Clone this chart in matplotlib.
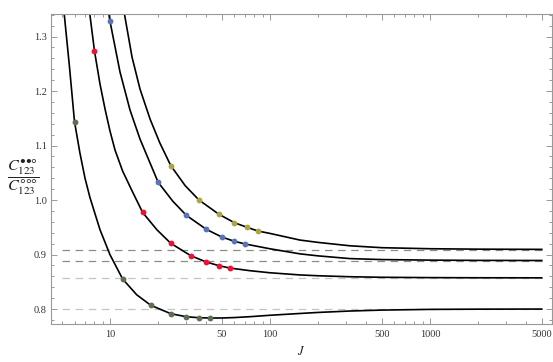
import matplotlib
matplotlib.use("Agg")
import matplotlib.pyplot as plt
from matplotlib.ticker import FixedLocator, NullFormatter

plt.rcParams['font.family'] = 'Liberation Serif'
plt.rcParams['mathtext.fontset'] = 'stix'

# curves (J, ratio)
J_a = [5.16, 5.58, 6, 6.49, 6.98, 7.5, 8.66, 10, 12, 14.7, 18, 24, 30, 36, 42, 50, 60, 75, 100, 154, 200, 316, 500,
       1000, 2000, 5000]
v_a = [1.345, 1.2445, 1.1437, 1.0859, 1.040, 1.0042, 0.9455, 0.8996, 0.855, 0.826, 0.8068, 0.7914, 0.7858, 0.784,
       0.7835, 0.7835, 0.7843, 0.7859, 0.7885, 0.7918, 0.7937, 0.7963, 0.798, 0.7993, 0.7997, 0.7999]

J_b = [7.45, 8, 8.66, 9.31, 10, 10.75, 12, 13.66, 16, 19.7, 24, 32, 40, 48, 56, 75, 100, 154, 200, 316, 500, 1000,
       2000, 5000]
v_b = [1.345, 1.2734, 1.2128, 1.167, 1.1266, 1.0917, 1.053, 1.0183, 0.9771, 0.945, 0.9205, 0.8978, 0.8862, 0.8795,
       0.8752, 0.8703, 0.8665, 0.8625, 0.861, 0.8592, 0.8582, 0.8576, 0.8573, 0.8572]

J_c = [9.79, 10, 11.55, 13.34, 15.4, 17.8, 20, 24.7, 30, 40, 50, 60, 70, 100, 154, 200, 316, 500, 1000, 2000, 5000]
v_c = [1.345, 1.328, 1.2349, 1.1651, 1.1119, 1.0679, 1.0325, 0.9978, 0.9719, 0.9462, 0.9321, 0.9242, 0.9193,
       0.9105, 0.9012, 0.8975, 0.8925, 0.8907, 0.8897, 0.8892, 0.889]

J_d = [12.25, 13.73, 15.4, 17.8, 20.5, 24, 29.5, 36, 48, 60, 72, 84, 100, 154, 200, 316, 500, 1000, 2000, 5000]
v_d = [1.345, 1.2624, 1.2037, 1.1486, 1.1046, 1.063, 1.0264, 1.0, 0.9738, 0.9583, 0.9499, 0.9431, 0.9387,
       0.9265, 0.9222, 0.916, 0.9125, 0.9106, 0.9098, 0.9094]

# highlighted points
dots_a_J = [6, 12, 18, 24, 30, 36, 42]
dots_a_v = [1.1437, 0.855, 0.8068, 0.7914, 0.7858, 0.784, 0.7835]
dots_b_J = [8, 16, 24, 32, 40, 48, 56]
dots_b_v = [1.2734, 0.9771, 0.9205, 0.8978, 0.8862, 0.8795, 0.8752]
dots_c_J = [10, 20, 30, 40, 50, 60, 70]
dots_c_v = [1.328, 1.0325, 0.9719, 0.9462, 0.9321, 0.9242, 0.9193]
dots_d_J = [24, 36, 48, 60, 72, 84]
dots_d_v = [1.063, 1.0, 0.9738, 0.9583, 0.9499, 0.9431]

asymptotes = [4 / 5, 6 / 7, 8 / 9, 10 / 11]
asym_colors = ['#c4c4c4', '#c4c4c4', '#8c8c8c', '#8c8c8c']

fig = plt.figure(figsize=(5.53, 3.62), dpi=100)
ax = fig.add_axes([0.0922, 0.105, 0.9058, 0.8563])

for a, c in zip(asymptotes, asym_colors):
    ax.plot([5, 5000], [a, a], color=c, lw=0.9, dashes=(6, 4.5), zorder=1)

for J, v in [(J_a, v_a), (J_b, v_b), (J_c, v_c), (J_d, v_d)]:
    ax.plot(J, v, color='black', lw=1.2, zorder=2, solid_joinstyle='round')

for J, v, c in [(dots_a_J, dots_a_v, '#5e6e55'), (dots_b_J, dots_b_v, '#ee1133'),
                (dots_c_J, dots_c_v, '#5b74b5'), (dots_d_J, dots_d_v, '#aaa644')]:
    ax.plot(J, v, 'o', color=c, ms=4.2, mew=0, zorder=3)

ax.set_xscale('log')
ax.set_xlim(4.277, 5787)
ax.set_ylim(0.7725, 1.3413)

xmajor = [10, 50, 100, 500, 1000, 5000]
xminor = [5, 6, 7, 8, 9, 20, 30, 40, 60, 70, 80, 90, 200, 300, 400, 600, 700, 800, 900, 2000, 3000, 4000]
ax.xaxis.set_major_locator(FixedLocator(xmajor))
ax.xaxis.set_minor_locator(FixedLocator(xminor))
ax.xaxis.set_minor_formatter(NullFormatter())
ax.set_xticklabels([str(x) for x in xmajor])
ax.yaxis.set_major_locator(FixedLocator([0.8, 0.9, 1.0, 1.1, 1.2, 1.3]))
ax.yaxis.set_minor_locator(FixedLocator([0.78 + 0.02 * i for i in range(29)]))
ax.set_yticklabels(['0.8', '0.9', '1.0', '1.1', '1.2', '1.3'])

for s in ax.spines.values():
    s.set_color('#999999')
    s.set_linewidth(0.8)
ax.tick_params(which='both', direction='in', top=True, right=True, color='#999999',
               labelsize=7.5, labelcolor='#333333', width=0.7)
ax.tick_params(which='major', length=4)
ax.tick_params(which='minor', length=2.4)
ax.tick_params(axis='y', pad=3)
ax.tick_params(axis='x', pad=4)

ax.set_xlabel('$J$', fontsize=9, labelpad=5, color='#222222')
fig.text(0.042, 0.512, '$\\dfrac{C_{123}^{\u2022\u2022\u25e6}}{C_{123}^{\u25e6\u25e6\u25e6}}$',
         fontsize=11.5, ha='center', va='center', color='#222222')

fig.savefig('out.png', dpi=100)
